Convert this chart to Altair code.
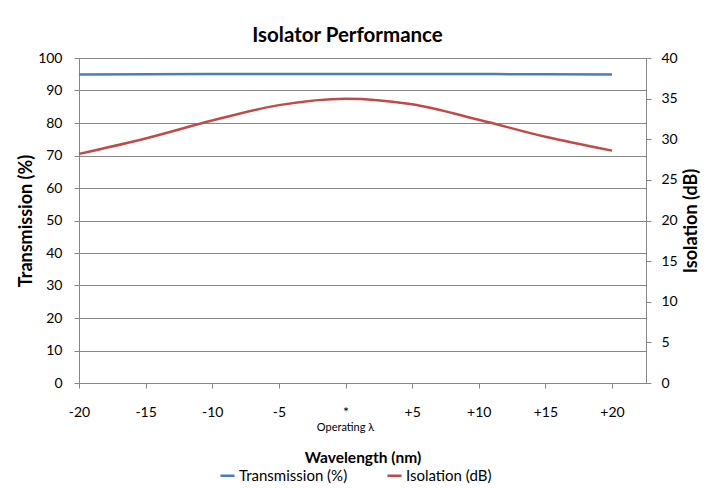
import altair as alt
import pandas as pd

wavelength = [-20, -15, -10, -5, 0, 5, 10, 15, 20]
transmission = [94.9, 95.0, 95.05, 95.1, 95.1, 95.1, 95.05, 95.0, 94.9]
isolation = [28.2, 30.1, 32.3, 34.2, 35.0, 34.3, 32.4, 30.3, 28.6]
series_names = ["Transmission (%)", "Isolation (dB)"]
colors = ["#4A7EBB", "#BE4B48"]

rows = []
for w, t, i in zip(wavelength, transmission, isolation):
    rows.append({"wl": w, "series": series_names[0], "value": t})
    rows.append({"wl": w, "series": series_names[1], "value": i})
df = pd.DataFrame(rows)

FONT = "Lato"
W, H = 567, 325

xscale = alt.Scale(domain=[-20, 22.55], nice=False, zero=False)
xaxis = alt.Axis(
    values=wavelength,
    labelExpr="datum.value == 0 ? '*' : (datum.value > 0 ? '+' + datum.value : '' + datum.value)",
    title="Wavelength (nm)",
    titleFont=FONT, titleFontSize=15.5, titleFontWeight="bold", titleColor="#000",
    titlePadding=31,
    labelFont=FONT, labelFontSize=14, labelColor="#000", labelPadding=17,
    labelFlush=False, labelOverlap=False,
    grid=False, domainColor="#868686", tickColor="#868686", tickSize=5,
)

color = alt.Color(
    "series:N",
    scale=alt.Scale(domain=series_names, range=colors),
    legend=alt.Legend(
        title=None, orient="none", direction="horizontal",
        legendX=140, legendY=H + 84,
        symbolType="stroke", symbolStrokeWidth=2.5, symbolSize=200,
        labelFont=FONT, labelFontSize=15, labelColor="#000", labelOffset=3,
        columnPadding=34, symbolOffset=0,
    ),
)

base = alt.Chart(df)

trans = base.transform_filter(alt.datum.series == series_names[0]).mark_line(
    strokeWidth=2.5, interpolate="monotone"
).encode(
    x=alt.X("wl:Q", scale=xscale, axis=xaxis),
    y=alt.Y(
        "value:Q",
        scale=alt.Scale(domain=[0, 100], nice=False),
        axis=alt.Axis(
            values=list(range(0, 101, 10)), title="Transmission (%)",
            titleFont=FONT, titleFontSize=18, titleFontWeight="bold", titleColor="#000",
            titlePadding=2,
            labelFont=FONT, labelFontSize=14, labelColor="#000", labelPadding=12,
            grid=True, gridColor="#868686", gridWidth=1,
            domainColor="#868686", tickColor="#868686", tickSize=5,
        ),
    ),
    color=color,
)

iso = base.transform_filter(alt.datum.series == series_names[1]).mark_line(
    strokeWidth=2.5, interpolate="monotone"
).encode(
    x=alt.X("wl:Q", scale=xscale, axis=xaxis),
    y=alt.Y(
        "value:Q",
        scale=alt.Scale(domain=[0, 40], nice=False),
        axis=alt.Axis(
            orient="right", values=list(range(0, 41, 5)), title="Isolation (dB)",
            titleAngle=270, titleBaseline="top",
            titleFont=FONT, titleFontSize=18, titleFontWeight="bold", titleColor="#000",
            titlePadding=5,
            labelFont=FONT, labelFontSize=14, labelColor="#000", labelPadding=10,
            grid=False, domainColor="#868686", tickColor="#868686", tickSize=5,
        ),
    ),
    color=color,
)

op_label = alt.Chart(pd.DataFrame({"wl": [0], "txt": ["Operating λ"]})).mark_text(
    font=FONT, fontSize=11, color="#000", baseline="middle"
).encode(
    x=alt.X("wl:Q", scale=xscale),
    y=alt.value(H + 45),
    text="txt:N",
)

chart = alt.layer(trans, iso, op_label).resolve_scale(y="independent").properties(
    width=W, height=H,
    title=alt.Title("Isolator Performance", font=FONT, fontSize=20.5, fontWeight="bold",
                    color="#000", offset=4.5, dx=-15),
    autosize=alt.AutoSizeParams(type="none"),
    padding={"left": 71, "top": 50, "right": 56, "bottom": 105},
).configure_view(stroke=None).configure(background="white")

chart.save("out.html", embed_options={"renderer": "svg", "actions": False})
